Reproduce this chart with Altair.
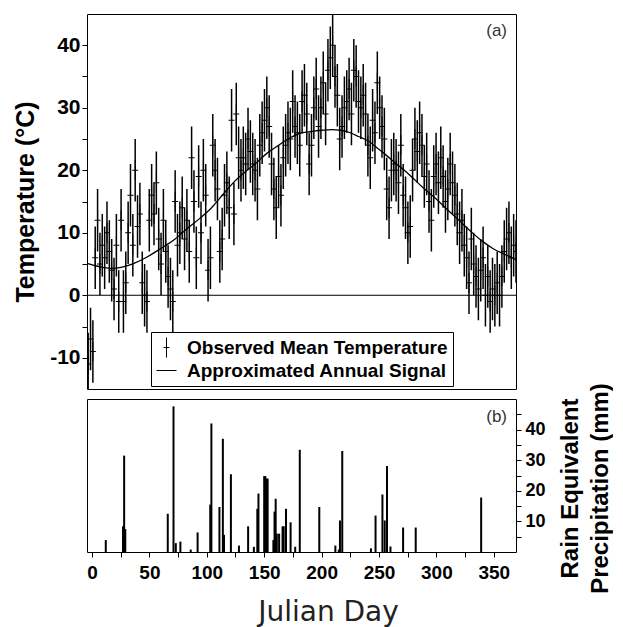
import altair as alt
import pandas as pd

# ---------------- data ----------------
OBS_NAME = "Observed Mean Temperature"
SIG_NAME = "Approximated Annual Signal"

# observed daily mean temperature (every other Julian day)
OBS_DAY = list(range(1, 366, 2))
OBS_T = [
    -11, -7, -9, 6, 12, 5, 8, 6, 10, 7,
    4, 1, 8, -1, 12, -1, 2, 10, 16, 8,
    20, 11, 13, 2, 0, -1, 12, 16, 13, 18,
    9, 5, 12, 7, 3, 1, -1, 15, 8, 10,
    14, 9, 12, 7, 22, 15, 6, 19, 10, 20,
    16, 4, 6, 24, 20, 17, 7, 9, 16, 18,
    14, 28, 13, 29, 22, 20, 22, 21, 25, 23,
    21, 20, 17, 24, 26, 28, 30, 27, 21, 17,
    14, 19, 16, 22, 24, 26, 25, 31, 27, 26,
    24, 31, 32, 29, 21, 24, 30, 33, 27, 30,
    34, 29, 36, 38, 40, 35, 32, 25, 27, 30,
    31, 33, 29, 36, 35, 31, 30, 32, 29, 24,
    22, 28, 26, 34, 30, 27, 25, 17, 14, 20,
    21, 20, 18, 24, 16, 14, 10, 11, 20, 25,
    23, 26, 24, 19, 21, 15, 12, 19, 21, 18,
    22, 19, 15, 17, 21, 18, 16, 13, 10, 12,
    8, 6, 2, 9, 5, 3, 1, 4, 6, 0,
    3, -1, 1, 0, 2, 0, 3, 7, 9, 10,
    6, 8, 7,
]
ERR = 5.0  # half length of the error bars (deg C)

# approximated annual signal
SIG_DAY = [0, 10, 20, 30, 40, 50, 63, 75, 86, 96, 106, 116, 126, 135, 143, 153,
           163, 173, 183, 191, 200, 208, 216, 224, 231, 240, 248, 254, 262, 270,
           277, 286, 296, 306, 317, 326, 336, 346, 356, 365]
SIG_T = [5.1, 4.6, 4.3, 4.5, 5.1, 6.0, 7.5, 9.0, 10.8, 12.3, 14.0, 16.2, 18.3,
         19.8, 21.0, 22.7, 24.0, 25.2, 26.0, 26.2, 26.4, 26.5, 26.4, 26.0, 25.4,
         24.6, 23.4, 22.5, 21.2, 20.0, 18.8, 17.2, 15.6, 13.8, 11.9, 10.3, 8.7,
         7.4, 6.5, 5.7]

# rain equivalent precipitation (mm)
P_DAY = [12, 27, 28, 29, 66, 71, 73, 77, 86, 92, 103, 104, 111, 114, 115, 121,
         128, 136, 141, 144, 145, 150, 151, 152, 153, 158, 159, 160, 161, 163,
         166, 167, 169, 173, 177, 181, 198, 212, 215, 216, 218, 243, 247, 253,
         255, 257, 260, 271, 282, 339]
P_MM = [3.9, 8.4, 31.5, 7.5, 12.5, 47.6, 2.9, 3.4, 0.8, 6.4, 15.5, 42.0, 14.7,
        37.0, 5.6, 25.4, 2.1, 8.4, 1.7, 14.1, 19.1, 24.8, 24.8, 24.0, 24.0, 3.9,
        13.2, 17.4, 6.0, 6.0, 8.4, 8.4, 14.1, 9.7, 1.7, 33.4, 14.7, 2.1, 0.8,
        10.3, 33.0, 1.2, 11.9, 18.8, 10.3, 28.1, 1.8, 8.0, 8.0, 17.8]

PANEL_A = ["(a)"]
PANEL_B = ["(b)"]

# ---------------- tables ----------------
obs = pd.DataFrame({"day": OBS_DAY, "t": OBS_T})
obs["lo"] = obs["t"] - ERR
obs["hi"] = obs["t"] + ERR
obs["series"] = OBS_NAME
sig = pd.DataFrame({"day": SIG_DAY, "t": SIG_T})
zero = pd.DataFrame({"t": [0]})
rain = pd.DataFrame({"day": P_DAY, "mm": P_MM})

CROSS = "M0,-1L0,1M-0.3,0L0.3,0"
DASH = "M-1,0L1,0"

W = 429
H_TOP = 375
H_BOT = 153

xscale = alt.Scale(domain=[0, 365], nice=False, zero=False)
tscale = alt.Scale(domain=[-15, 45], nice=False, zero=False)

t_axis = alt.Axis(
    values=list(range(-10, 45, 5)),
    labelExpr="datum.value % 10 == 0 ? '' + datum.value : ''",
    labelFont="Liberation Sans", labelFontSize=21, labelFontWeight="bold",
    labelColor="black", labelPadding=2, labelOverlap=False,
    tickSize=5, tickColor="black", domain=False, grid=False,
    title="Temperature (°C)", titleFont="Liberation Sans", titleFontSize=25,
    titleFontWeight="bold", titleColor="black", titlePadding=11,
)


def ty(field):
    return alt.Y(f"{field}:Q", scale=tscale, axis=t_axis, title="Temperature (°C)")


xnone = alt.X("day:Q", scale=xscale, axis=None)

zero_line = alt.Chart(zero).mark_rule(color="black", strokeWidth=1).encode(y=ty("t"))

bars = alt.Chart(obs).mark_rule(color="black", strokeWidth=1.5, clip=True).encode(
    x=xnone, y=ty("lo"), y2="hi:Q"
)

marks = alt.Chart(obs).mark_point(
    filled=False, stroke="black", strokeWidth=1, size=400, opacity=1, clip=True
).encode(
    x=xnone,
    y=ty("t"),
    shape=alt.Shape(
        "series:N",
        scale=alt.Scale(domain=[OBS_NAME, SIG_NAME], range=[CROSS, DASH]),
        legend=alt.Legend(
            title=None, orient="none", legendX=64, legendY=318, direction="vertical",
            fillColor="white", strokeColor="black", padding=5,
            symbolSize=400, symbolStrokeWidth=1, symbolStrokeColor="black",
            symbolFillColor="transparent", symbolOpacity=1,
            labelFont="Liberation Sans", labelFontSize=19, labelFontWeight="bold",
            labelColor="black", labelOffset=10, labelLimit=400, rowPadding=0,
        ),
    ),
)

signal = alt.Chart(sig).mark_line(color="black", strokeWidth=1.3, interpolate="monotone").encode(
    x=xnone, y=ty("t")
)

label_a = alt.Chart(pd.DataFrame({"lab": PANEL_A})).mark_text(
    align="right", baseline="top", font="Liberation Sans", fontSize=17, color="#333"
).encode(x=alt.value(W - 9), y=alt.value(9), text="lab:N")

top = alt.layer(zero_line, bars, marks, signal, label_a).properties(width=W, height=H_TOP)

x_axis = alt.Axis(
    values=list(range(0, 351, 25)),
    labelExpr="datum.value % 50 == 0 ? '' + datum.value : ''",
    labelFont="Liberation Sans", labelFontSize=19,
    labelFontWeight="bold", labelColor="black", labelPadding=6, labelFlush=False,
    labelOverlap=False, tickSize=5, tickColor="black", domain=False, grid=False,
    title="Julian Day", titleFont="DejaVu Sans", titleFontSize=28,
    titleFontWeight="normal", titleColor="#222", titleX=241, titleY=68,
    titleAlign="center", titleBaseline="alphabetic",
)

p_axis = alt.Axis(
    orient="right",
    values=list(range(5, 50, 5)),
    labelExpr="datum.value % 10 == 0 ? '' + datum.value : ''",
    labelFont="Liberation Sans", labelFontSize=18, labelFontWeight="bold",
    labelColor="black", labelPadding=4, labelOverlap=False,
    tickSize=5, tickColor="black", domain=False, grid=False,
    title=["Rain Equivalent", "Precipitation (mm)"], titleFont="Liberation Sans",
    titleFontSize=24, titleFontWeight="bold", titleColor="black",
    titleAngle=270, titleBaseline="top", titleAlign="center", titleLineHeight=30,
    titleX=42, titleY=89,
)

rain_bars = alt.Chart(rain).mark_bar(color="black", size=2).encode(
    x=alt.X("day:Q", scale=xscale, axis=x_axis),
    y=alt.Y("mm:Q", scale=alt.Scale(domain=[0, 50], nice=False), axis=p_axis),
)

label_b = alt.Chart(pd.DataFrame({"lab": PANEL_B})).mark_text(
    align="right", baseline="top", font="Liberation Sans", fontSize=17, color="#333"
).encode(x=alt.value(W - 9), y=alt.value(10), text="lab:N")

bottom = alt.layer(rain_bars, label_b).properties(width=W, height=H_BOT)

chart = (
    alt.vconcat(top, bottom, spacing=10, bounds="flush")
    .resolve_legend(shape="independent")
    .properties(padding={"left": 5, "top": 5, "right": 0, "bottom": 0}, background="white")
    .configure_view(stroke="black", strokeWidth=1)
)

chart.save("out.html", embed_options={"renderer": "svg", "actions": False})
